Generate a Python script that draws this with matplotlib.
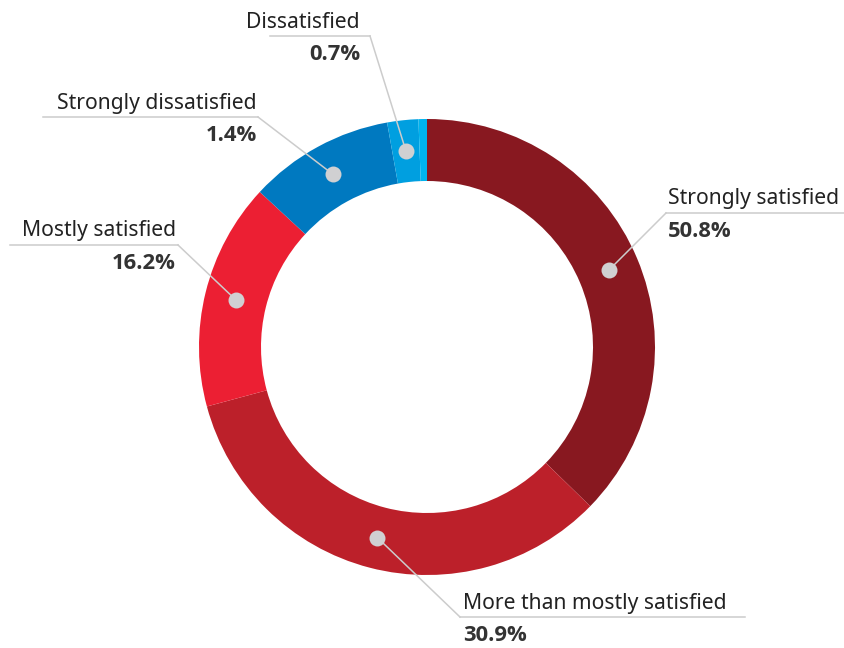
import numpy as np
import matplotlib.pyplot as plt

# satisfaction survey, ring chart with callout labels
categories = ["Strongly satisfied", "More than mostly satisfied", "Mostly satisfied",
              "Strongly dissatisfied", "Dissatisfied"]
pct_labels = [50.8, 30.9, 16.2, 1.4, 0.7]
# share of the ring taken by each slice (last one is an unlabelled sliver)
ring_share = [37.3, 33.5, 16.1, 10.3, 2.2, 0.6]
colors = ["#881820", "#bc202a", "#ec1f33", "#0079c0", "#009fe0", "#00b3ee"]

plt.rcParams['font.family'] = ['Noto Sans', 'DejaVu Sans']

W, H = 845, 648
fig = plt.figure(figsize=(W / 100, H / 100), dpi=100)
ax = fig.add_axes([0, 0, 1, 1])

cx, cy = 427, H - 347
r_out, r_in = 228, 166

wedges, _ = ax.pie(ring_share, colors=colors, startangle=90, counterclock=False,
                   radius=r_out, center=(cx, cy),
                   wedgeprops=dict(width=r_out - r_in, linewidth=0))
ax.set_xlim(0, W)
ax.set_ylim(0, H)
ax.set_aspect('equal')
ax.axis('off')

# callout layout: (side, x where leader meets rule, x where rule ends, rule y, text x)
layout = [
    ("left", 666, 845, 213, 668),
    ("left", 460, 745, 617, 463),
    ("right", 178, 10, 245, 176),
    ("right", 258, 43, 117, 257),
    ("right", 370, 270, 36, 360),
]

r_mid = (r_out + r_in) / 2
line_col = "#cccccc"
for i, (side, x_near, x_far, ly, tx) in enumerate(layout):
    w = wedges[i]
    ang = np.deg2rad((w.theta1 + w.theta2) / 2)
    dx, dy = cx + r_mid * np.cos(ang), cy + r_mid * np.sin(ang)
    y_rule = H - ly
    ax.plot([dx, x_near], [dy, y_rule], color=line_col, lw=1.1, zorder=3)
    ax.plot([x_near, x_far], [y_rule, y_rule], color=line_col, lw=1.1, zorder=3)
    ax.plot(dx, dy, 'o', ms=11.5, color="#d0d0d2", mec='none', zorder=4)
    ha = 'left' if side == "left" else 'right'
    ax.text(tx, y_rule + 8.5, categories[i], ha=ha, va='baseline',
            fontsize=15.2, color="#222222")
    ax.text(tx, y_rule - 24, f"{pct_labels[i]:.1f}%", ha=ha, va='baseline',
            fontsize=15.8, fontweight='bold', color="#333333",
            family=['Open Sans', 'DejaVu Sans'])

fig.savefig("out.png", dpi=100)
